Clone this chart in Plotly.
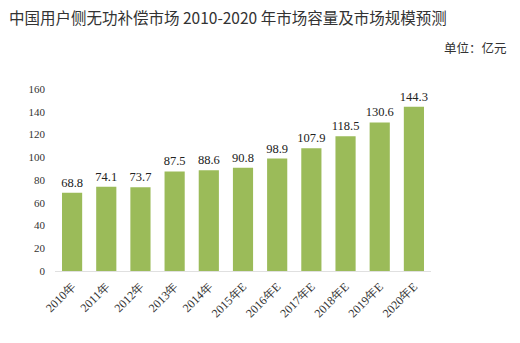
import plotly.graph_objects as go

categories = ["2010年", "2011年", "2012年", "2013年", "2014年", "2015年E", "2016年E",
              "2017年E", "2018年E", "2019年E", "2020年E"]
values = [68.8, 74.1, 73.7, 87.5, 88.6, 90.8, 98.9, 107.9, 118.5, 130.6, 144.3]
y_ticks = [0, 20, 40, 60, 80, 100, 120, 140, 160]

serif = "Liberation Serif, Times New Roman, serif"
cjk = "Noto Sans CJK SC, Noto Sans, sans-serif"

fig = go.Figure(go.Bar(
    x=categories, y=values,
    marker=dict(color="#9BBB59", line=dict(width=0)),
    text=[f"{v:.1f}" for v in values],
    textposition="outside",
    constraintext="none",
    textfont=dict(family=serif, size=12.5, color="#222222"),
    cliponaxis=False,
))

fig.update_layout(
    width=520, height=343,
    margin=dict(l=55, r=89, t=89, b=72),
    paper_bgcolor="white", plot_bgcolor="white",
    bargap=0.41,
    showlegend=False,
    annotations=[
        dict(text="中国用户侧无功补偿市场 2010-2020 年市场容量及市场规模预测",
             xref="paper", yref="paper", x=-48/376, y=1 + 72/182, xanchor="left", yanchor="middle",
             showarrow=False, font=dict(family=cjk, size=15.5, color="#333333")),
        dict(text="单位：亿元",
             xref="paper", yref="paper", x=1 + 78/376, y=1 + 41/182, xanchor="right", yanchor="middle",
             showarrow=False, font=dict(family=cjk, size=12.5, color="#333333")),
    ],
)
fig.update_xaxes(
    showline=True, linecolor="#E0E0E0", linewidth=1,
    tickangle=-45, ticks="", ticklabelstandoff=3,
    tickfont=dict(family=serif, size=12, color="#333333"),
)
fig.update_yaxes(
    range=[0, 160], tickvals=y_ticks, showgrid=False, zeroline=False, showline=False,
    ticks="", ticklen=0, ticklabelstandoff=9,
    tickfont=dict(family=serif, size=11, color="#333333"),
)

fig.write_html("out.html")
